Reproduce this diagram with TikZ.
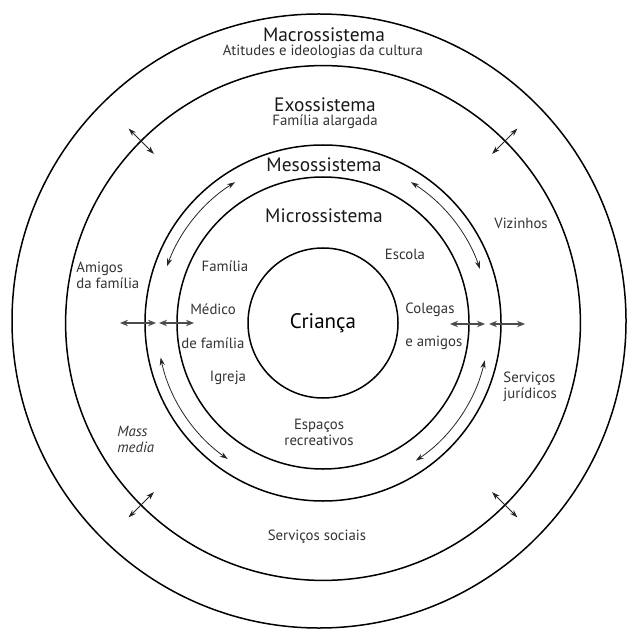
\documentclass[tikz,border=0pt]{standalone}
\usepackage{fontspec}
\setmainfont{PT Sans}
\usetikzlibrary{arrows.meta}
\begin{document}
\begin{tikzpicture}[x=0.5pt,y=-0.5pt,
  ring/.style={draw=black, line width=0.75pt},
  link/.style={draw=black!85, line width=0.4pt, {Stealth[length=4pt,width=2.6pt]}-{Stealth[length=4pt,width=2.6pt]}},
  hlink/.style={draw=black!70, line width=0.6pt, {Stealth[length=4pt,width=3.2pt]}-{Stealth[length=4pt,width=3.2pt]}},
  head/.style={font=\fontsize{9.7}{10}\selectfont, text=black!90, inner sep=0pt},
  lbl/.style={font=\fontsize{7.4}{8}\selectfont, text=black!80, inner sep=0pt}]
\useasboundingbox (0,0) rectangle (627,630);
\fill[white] (0,0) rectangle (627,630);
\coordinate (O) at (323,323);
\coordinate (OM) at (319,321);
% rings
\draw[ring] (OM) circle[radius=153.5pt];
\draw[ring] (O) circle[radius=128.7pt];
\draw[ring] (O) circle[radius=89pt];
\draw[ring] (O) circle[radius=73pt];
\node[ring, circle, minimum size=75pt, inner sep=0pt, font=\fontsize{10.5}{12}\selectfont] (crianca) at (O) {Criança};
% headings
\node[head] (macro) at (324,35) {Macrossistema};
\node[lbl] (atit) at (323,52) {Atitudes e ideologias da cultura};
\node[head] (exo) at (325,105) {Exossistema};
\node[lbl] (alarg) at (325,122) {Família alargada};
\node[head] (meso) at (324,165) {Mesossistema};
\node[head] (micro) at (324,216) {Microssistema};
% microsystem labels
\node[lbl] (familia) at (225,266) {Família};
\node[lbl] (escola) at (405,254) {Escola};
\node[lbl] (medico) at (213,309) {Médico};
\node[lbl] (defam) at (213,343) {de família};
\node[lbl, anchor=west] (colegas) at (405,310) {Colegas};
\node[lbl, anchor=west] (eamigos) at (405,343) {e amigos};
\node[lbl] (igreja) at (228,378) {Igreja};
\node[lbl, align=center] (espacos) at (319,432) {Espaços\\recreativos};
% exosystem labels
\node[lbl, align=left, anchor=west] (amigos) at (76,275) {Amigos\\da família};
\node[lbl] (vizinhos) at (521,223) {Vizinhos};
\node[lbl, align=left, anchor=west] (juridicos) at (503,387) {Serviços\\jurídicos};
\node[lbl, align=left, anchor=west, font=\fontsize{7.4}{8}\selectfont\itshape] (mass) at (117,439) {Mass\\media};
\node[lbl] (sociais) at (317,537) {Serviços sociais};
% curved arrows in the mesosystem ring
\draw[link] ([shift={(58:83pt)}]O) arc[start angle=58, end angle=19, radius=83pt];
\draw[link] ([shift={(122:83pt)}]O) arc[start angle=122, end angle=160, radius=83pt];
\draw[link] ([shift={(192:83pt)}]O) arc[start angle=192, end angle=235, radius=83pt];
\draw[link] ([shift={(-13:83pt)}]O) arc[start angle=-13, end angle=-56, radius=83pt];
% diagonal arrows across the exosystem circle
\foreach \a/\n in {45/ne,135/nw,225/sw,315/se}{
  \coordinate (d\n1) at ([shift={(\a:119.5pt)}]O);
  \coordinate (d\n2) at ([shift={(\a:137.5pt)}]O);
  \draw[link] (d\n1) -- (d\n2);
}
% horizontal arrows
\coordinate (l1) at (120,323); \coordinate (l2) at (156,323);
\coordinate (l3) at (159,323); \coordinate (l4) at (194,323);
\coordinate (r1) at (450,324); \coordinate (r2) at (485,324);
\coordinate (r3) at (489,324); \coordinate (r4) at (525,324);
\draw[hlink] (l1) -- (l2);
\draw[hlink] (l3) -- (l4);
\draw[hlink] (r1) -- (r2);
\draw[hlink] (r3) -- (r4);
\end{tikzpicture}
\end{document}
